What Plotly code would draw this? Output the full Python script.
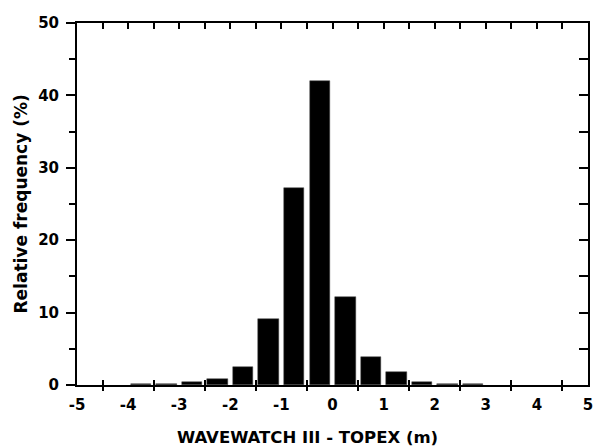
import plotly.graph_objects as go

bin_centers = [-3.75, -3.25, -2.75, -2.25, -1.75, -1.25, -0.75, -0.25,
               0.25, 0.75, 1.25, 1.75, 2.25, 2.75]
frequency = [0.2, 0.2, 0.45, 0.8, 2.5, 9.1, 27.2, 42.0,
             12.1, 3.8, 1.75, 0.4, 0.2, 0.15]
x_label_vals = [-5, -4, -3, -2, -1, 0, 1, 2, 3, 4, 5]
x_label_text = ["-5", "-4", "-3", "-2", "-1", "0", "1", "2", "3", "4", "5"]
x_half_ticks = [-4.5, -3.5, -2.5, -1.5, -0.5, 0.5, 1.5, 2.5, 3.5, 4.5]
x_top_ticks = [-4.5 + 0.5 * i for i in range(19)]
y_major = [0, 10, 20, 30, 40, 50]
y_minor = [5, 15, 25, 35, 45]
y_right = [5, 10, 15, 20, 25, 30, 35, 40, 45]
x_title = "WAVEWATCH III - TOPEX (m)"
y_title = "Relative frequency (%)"

FONT = "DejaVu Sans"
W, H = 593, 448
ML, MR, MT, MB = 77, 5, 23, 63
PW, PH = W - ML - MR, H - MT - MB

fig = go.Figure()
fig.add_trace(go.Bar(x=bin_centers, y=frequency, width=0.4,
                     marker=dict(color="black", line=dict(color="#444", width=0.5)),
                     xaxis="x", yaxis="y", showlegend=False))
# invisible helpers so overlay axes render
for ax in ["x2", "x3", "x4"]:
    fig.add_trace(go.Scatter(x=[0], y=[0], mode="markers", marker=dict(opacity=0),
                             xaxis=ax, yaxis="y", showlegend=False, hoverinfo="skip"))
fig.add_trace(go.Scatter(x=[0], y=[0], mode="markers", marker=dict(opacity=0),
                         xaxis="x", yaxis="y2", showlegend=False, hoverinfo="skip"))

common_x = dict(range=[-5, 5], showgrid=False, zeroline=False, fixedrange=True,
                automargin=False)
fig.update_layout(
    width=W, height=H,
    margin=dict(l=ML, r=MR, t=MT, b=MB, autoexpand=False),
    paper_bgcolor="white", plot_bgcolor="white",
    bargap=0,
    xaxis=dict(**common_x, tickvals=x_label_vals, ticktext=x_label_text, ticks="",
               ticklabelstandoff=5, ticklabeloverflow="allow",
               showline=True, linecolor="black", linewidth=2,
               tickfont=dict(family=FONT, size=15, color="black", weight="bold")),
    xaxis2=dict(**common_x, overlaying="x", anchor="y", side="bottom",
                tickvals=x_half_ticks, ticks="outside", ticklen=5, tickwidth=2,
                tickcolor="black", showticklabels=False, showline=False),
    xaxis3=dict(**common_x, overlaying="x", anchor="y", side="bottom",
                tickvals=x_half_ticks, ticks="inside", ticklen=5, tickwidth=2,
                tickcolor="black", showticklabels=False, showline=False),
    xaxis4=dict(**common_x, overlaying="x", anchor="y", side="top",
                tickvals=x_top_ticks, ticks="inside", ticklen=6, tickwidth=2,
                tickcolor="black", showticklabels=False, showline=True,
                linecolor="black", linewidth=2),
    yaxis=dict(range=[0, 50], tickvals=y_major, ticks="outside", ticklen=9, tickwidth=2,
               tickcolor="black", showline=True, linecolor="black", linewidth=2,
               showgrid=False, zeroline=False, fixedrange=True, ticklabelstandoff=4,
               automargin=False, ticklabeloverflow="allow",
               minor=dict(tickvals=y_minor, ticks="outside", ticklen=6, tickwidth=2,
                          tickcolor="black", showgrid=False),
               tickfont=dict(family=FONT, size=15, color="black", weight="bold")),
    yaxis2=dict(range=[0, 50], overlaying="y", side="right", anchor="x",
                tickvals=y_right, ticks="inside", ticklen=9, tickwidth=2,
                tickcolor="black", showticklabels=False, showline=True,
                linecolor="black", linewidth=2, showgrid=False, zeroline=False,
                fixedrange=True, automargin=False),
    annotations=[
        dict(text=x_title, xref="paper", yref="paper",
             x=(307 - ML) / PW, y=(H - MB - 437) / PH, xanchor="center", yanchor="middle",
             showarrow=False,
             font=dict(family=FONT, size=16.5, color="black", weight="bold")),
        dict(text=y_title, xref="paper", yref="paper", textangle=-90,
             x=(20.5 - ML) / PW, y=0.5, xanchor="center", yanchor="middle",
             showarrow=False,
             font=dict(family=FONT, size=17, color="black", weight="bold")),
    ],
)
fig.write_html("out.html")
